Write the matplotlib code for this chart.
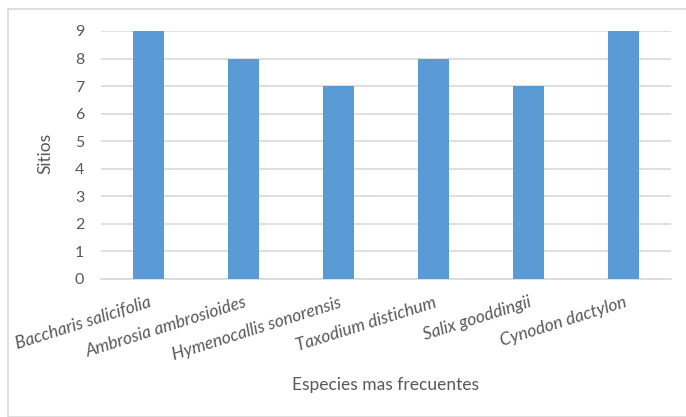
import matplotlib
matplotlib.use("Agg")
import matplotlib.pyplot as plt
from matplotlib.patches import Rectangle

species = ["Baccharis salicifolia", "Ambrosia ambrosioides", "Hymenocallis sonorensis",
           "Taxodium distichum", "Salix gooddingii", "Cynodon dactylon"]
sitios = [9, 8, 7, 8, 7, 9]
yticks = [0, 1, 2, 3, 4, 5, 6, 7, 8, 9]

W, H = 686, 417
fig = plt.figure(figsize=(W / 100, H / 100), dpi=100)
plt.rcParams['font.family'] = ['Lato', 'DejaVu Sans']

# chart area outline
fig.patches.append(Rectangle((8 / W, 0), 1.0, 1 - 9 / H, transform=fig.transFigure,
                             fill=False, edgecolor="#d9d9d9", linewidth=1.2))

left, right, top, bottom = 101, 671, 31, 279
ax = fig.add_axes([left / W, 1 - bottom / H, (right - left) / W, (bottom - top) / H])

x = list(range(len(species)))
ax.bar(x, sitios, width=0.316, color="#5b9bd5", zorder=3)
ax.set_xlim(-0.5, len(species) - 0.5)
ax.set_ylim(0, 9)
ax.set_yticks(yticks)
ax.set_yticklabels([str(v) for v in yticks], fontsize=11.5, color="#595959")
ax.yaxis.grid(True, color="#d9d9d9", linewidth=1.2, zorder=0)
ax.tick_params(axis="both", length=0)
ax.tick_params(axis="y", pad=12)
for s in ["left", "right", "top"]:
    ax.spines[s].set_visible(False)
ax.spines["bottom"].set_color("#d9d9d9")
ax.spines["bottom"].set_linewidth(1.2)

ax.set_xticks(x)
ax.set_xticklabels(species, rotation=17.5, ha="right", rotation_mode="anchor",
                   fontsize=12.5, color="#595959", style="italic")
ax.tick_params(axis="x", pad=11)

fig.text(45 / W, 1 - 153 / H, "Sitios", rotation=90, ha="center", va="center",
         fontsize=12.5, color="#595959")
fig.text(386 / W, 1 - 385 / H, "Especies mas frecuentes", ha="center", va="center",
         fontsize=12.5, color="#595959")

fig.savefig("out.png", dpi=100)
